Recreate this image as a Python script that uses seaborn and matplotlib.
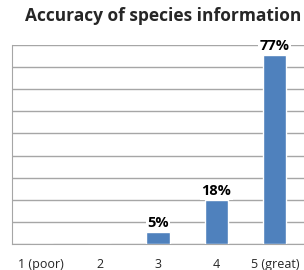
import numpy as np
import pandas as pd
import matplotlib
matplotlib.use("Agg")
import matplotlib.pyplot as plt
import seaborn as sns

# Data
categories = ["1 (poor)", "2", "3", "4", "5 (great)"]
shares = [0.0, 0.0, 0.05, 0.18, 0.77]

df = pd.DataFrame({"rating": categories, "share": shares})

sns.set_style("white")
plt.rcParams["font.family"] = ["Open Sans", "DejaVu Sans"]

fig = plt.figure(figsize=(3.04, 2.70), dpi=100)
ax = fig.add_axes([12 / 304, 26 / 270, 292 / 304, 199 / 270])

sns.barplot(data=df, x="rating", y="share", color="#4F81BD", width=0.4,
            saturation=1, ax=ax, zorder=3)

ax.set_xlim(-0.5, 4.45)
ax.set_ylim(0, 0.81)
ax.set_yticks(np.arange(0, 0.82, 0.09))
ax.set_yticklabels([])
ax.yaxis.grid(True, color="#a6a6a6", linewidth=1)
ax.set_axisbelow(True)
ax.set_xlabel("")
ax.set_ylabel("")

ax.set_xticks(np.arange(-0.5, 4.6, 1), minor=False)
ax.set_xticklabels([])
ax.set_xticks(np.arange(0, 5), minor=True)
ax.set_xticklabels(categories, minor=True, fontsize=9, color="#262626")
ax.tick_params(axis="x", which="major", direction="out", length=4, color="#a6a6a6")
ax.tick_params(axis="x", which="minor", length=0, pad=10)
ax.tick_params(axis="y", direction="out", length=4, color="#a6a6a6")

for side in ["top", "right"]:
    ax.spines[side].set_visible(False)
for side in ["left", "bottom"]:
    ax.spines[side].set_color("#a6a6a6")

labels = [f"{v:.0%}" if v > 0 else "" for v in shares]
ax.bar_label(ax.containers[0], labels=labels, fontsize=10.5, fontweight="bold",
             padding=1, color="black",
             bbox=dict(facecolor="white", edgecolor="none", pad=1))

fig.text(163 / 304, 1 - 16 / 270, "Accuracy of species information",
         ha="center", va="center", fontsize=12.5, fontweight="bold")

fig.savefig("out.png", dpi=100)
